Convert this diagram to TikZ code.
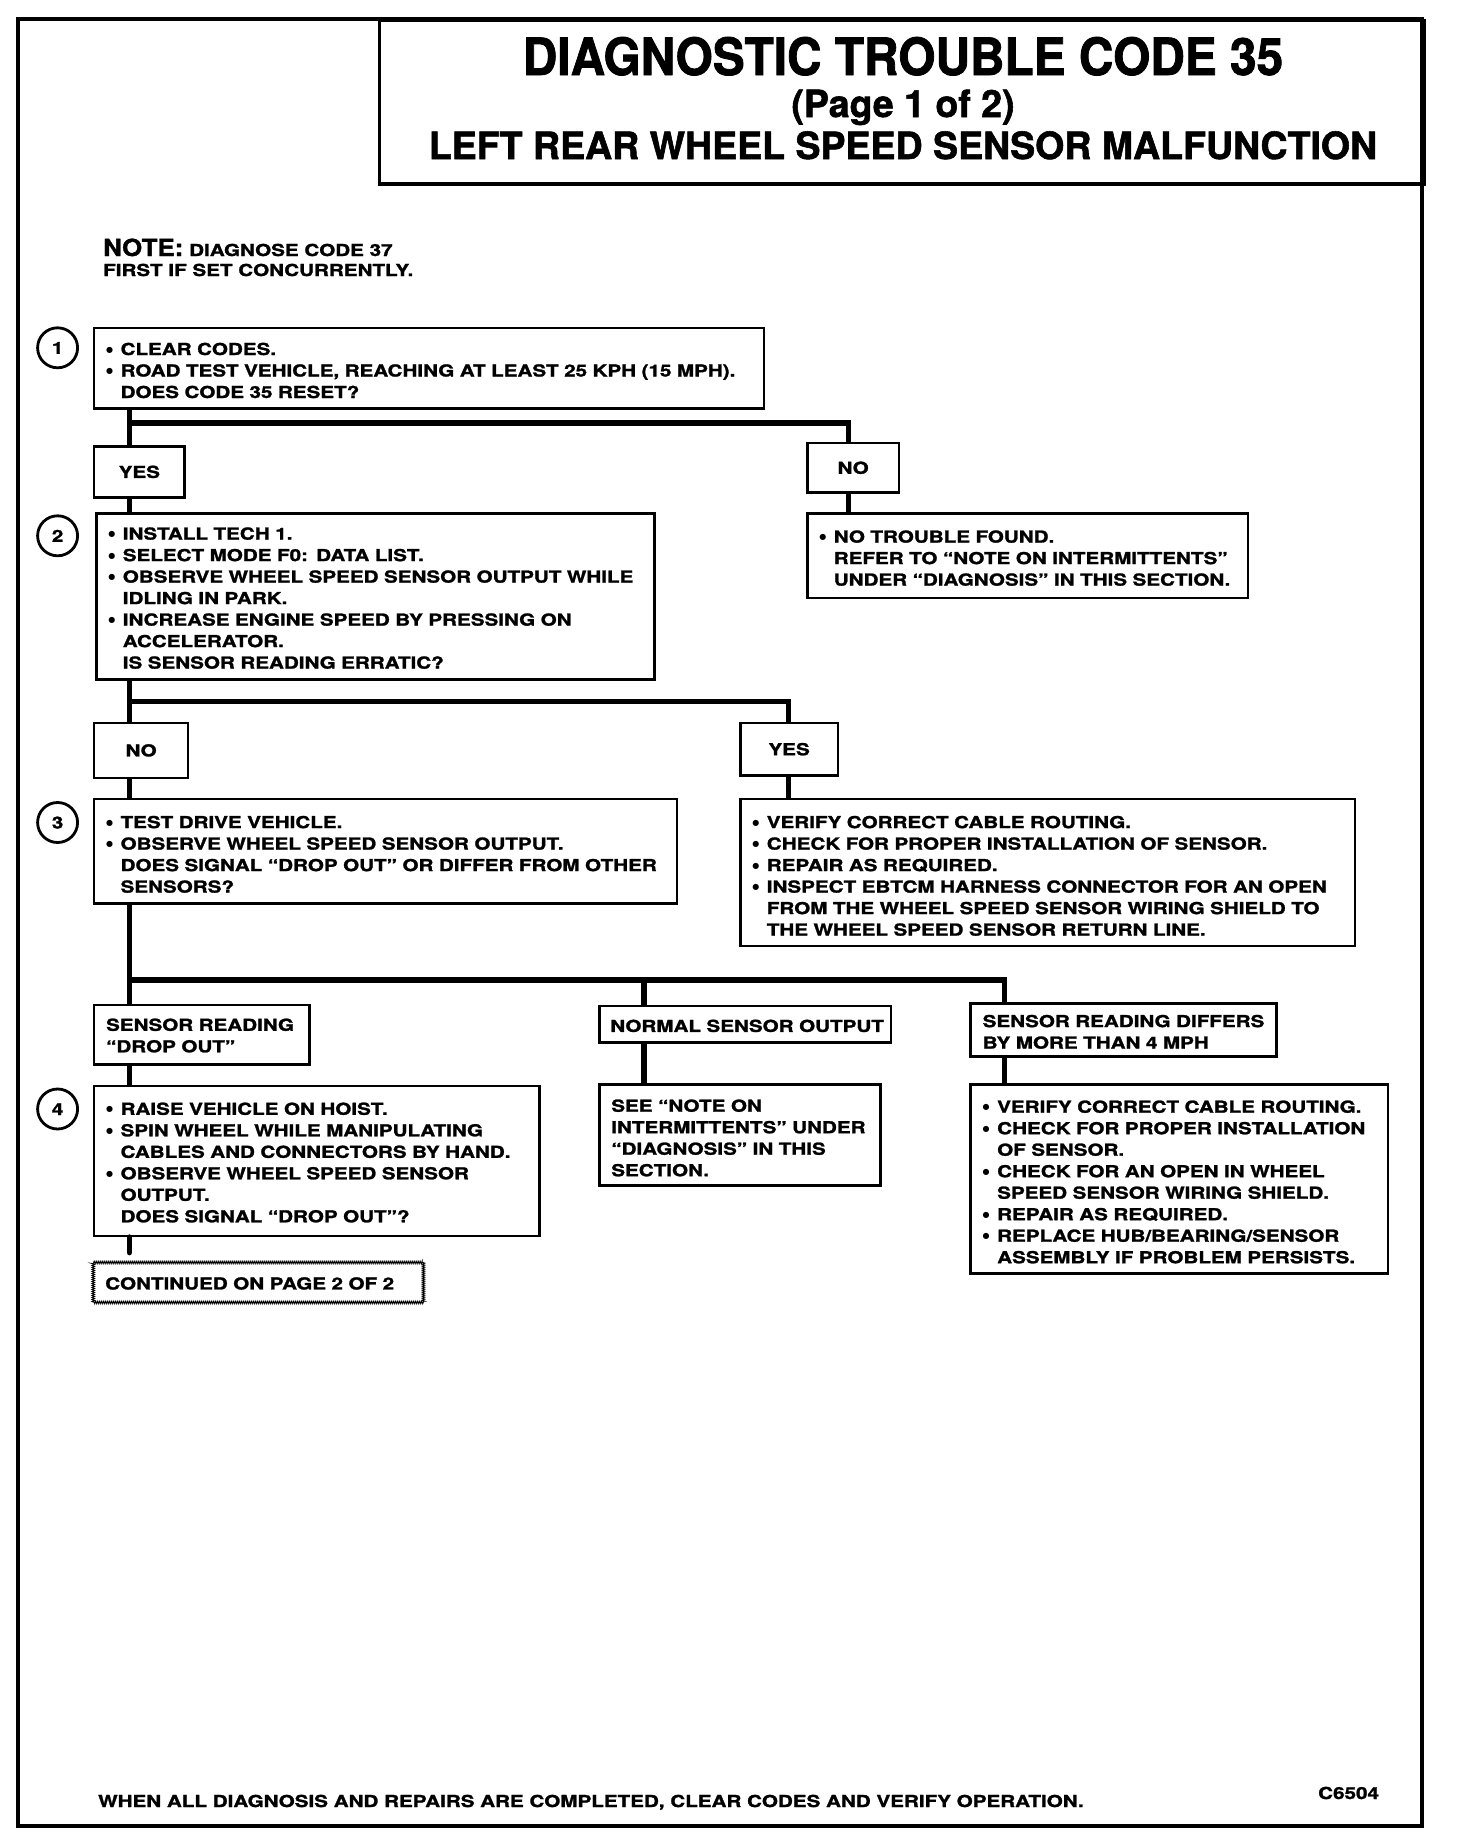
\documentclass[tikz,border=0pt]{standalone}
\usepackage{fontspec}
\usetikzlibrary{decorations.pathmorphing}
\newfontfamily\boxfont{TeX Gyre Heros}[FakeStretch=1.25, FakeBold=1.5]
\newfontfamily\notefont{TeX Gyre Heros}[FakeStretch=1.1, FakeBold=1.5]
\newfontfamily\titlefontA{TeX Gyre Heros}[FakeStretch=0.93, FakeBold=1.5]
\newfontfamily\titlefontB{TeX Gyre Heros}[FakeBold=1.5]
\newfontfamily\dotfont{DejaVu Sans}
\newcommand\TS[1][27]{\rule{0pt}{#1pt}}
\newcommand\BS[1][10.5]{\rule[-#1pt]{0pt}{#1pt}}
\newcommand\bu{\makebox[14.5pt][l]{\dotfont\fontsize{8}{8}\selectfont\raisebox{3pt}{●}}}
\newcommand\bl[1]{\mbox{\bu #1}}
\newcommand\cl[1]{\mbox{\hspace*{14.5pt}#1}}
\newcommand\pl[1]{\mbox{#1}}
\tikzset{
  bfont/.style={font=\boxfont\bfseries\fontsize{16.5}{21.5}\selectfont},
  box/.style={draw, line width=2.6pt, anchor=north west, inner xsep=12pt, inner ysep=0pt, align=left, bfont},
  yn/.style={draw, line width=2.6pt, anchor=north west, inner sep=0pt, text height=12pt, text depth=0pt, bfont},
  num/.style={circle, draw, line width=2.8pt, minimum size=40pt, inner sep=0pt, text height=12pt, text depth=0pt, bfont},
  conn/.style={line width=5.5pt, line join=miter},
  plain/.style={inner sep=0pt, anchor=base west, bfont},
  contbox/.style={draw, line width=0.9pt, decorate, decoration={zigzag, segment length=2pt, amplitude=1.3pt}, anchor=north west, inner xsep=12pt, inner ysep=0pt, align=left, bfont}
}
\begin{document}
\begin{tikzpicture}[x=1pt,y=-1pt]
\useasboundingbox (0,0) rectangle (1456,1844);
% frame
\draw[line width=4pt] (18,19) rectangle (1422,1826);
% title
\node[draw, line width=3.5pt, anchor=north west, minimum width=1044.5pt, minimum height=163pt, inner sep=0pt] (title) at (377.5,19) {};
\node[inner sep=0pt, anchor=base, font=\titlefontA\bfseries\fontsize{51.4}{56}\selectfont] (t1) at (903,75) {DIAGNOSTIC TROUBLE CODE 35};
\node[inner sep=0pt, anchor=base, font=\titlefontB\bfseries\fontsize{37.5}{42}\selectfont] (t2) at (903,117) {(Page 1 of 2)};
\node[inner sep=0pt, anchor=base, font=\titlefontB\bfseries\fontsize{37.5}{42}\selectfont] (t3) at (903,159) {LEFT REAR WHEEL SPEED SENSOR MALFUNCTION};
% note
\node[plain, font=\notefont\bfseries\fontsize{23.5}{26}\selectfont] (note) at (103,256) {NOTE:};
\node[plain] (note2) at (189,256) {DIAGNOSE CODE 37};
\node[plain] (note3) at (103,276) {FIRST IF SET CONCURRENTLY.};
% step numbers
\node[num] (n1) at (57.6,347.8) {1};
\node[num] (n2) at (57.6,535.8) {2};
\node[num] (n3) at (57.6,822.5) {3};
\node[num] (n4) at (57.6,1109) {4};
% boxes
\node[box, text width=645.8pt] (b1) at (92.8,326.7) {\TS\bl{CLEAR CODES.}\\
\bl{ROAD TEST VEHICLE, REACHING AT LEAST 25 KPH (15 MPH).}\\
\cl{DOES CODE 35 RESET?}\BS};
\node[yn, minimum width=90.5pt, minimum height=50.6pt] (yes1) at (92.8,445.3) {YES};
\node[yn, minimum width=91.7pt, minimum height=49.4pt] (no1) at (806,441.8) {NO};
\node[box, text width=416.7pt] (nores) at (806,512.3) {\TS[29]\bl{NO TROUBLE FOUND.}\\
\cl{REFER TO “NOTE ON INTERMITTENTS”}\\
\cl{UNDER “DIAGNOSIS” IN THIS SECTION.}\BS[12.5]};
\node[box, text width=534pt] (b2) at (95,512.3) {\TS[26]\bl{INSTALL TECH 1.}\\
\bl{SELECT MODE F0: DATA LIST.}\\
\bl{OBSERVE WHEEL SPEED SENSOR OUTPUT WHILE}\\
\cl{IDLING IN PARK.}\\
\bl{INCREASE ENGINE SPEED BY PRESSING ON}\\
\cl{ACCELERATOR.}\\
\cl{IS SENSOR READING ERRATIC?}\BS[11]};
\node[yn, minimum width=94pt, minimum height=55.2pt] (no2) at (92.8,721.5) {NO};
\node[yn, minimum width=97.6pt, minimum height=52.8pt] (yes2) at (739,721.5) {YES};
\node[box, text width=558.8pt] (b3) at (92.8,797.8) {\TS[29]\bl{TEST DRIVE VEHICLE.}\\
\bl{OBSERVE WHEEL SPEED SENSOR OUTPUT.}\\
\cl{DOES SIGNAL “DROP OUT” OR DIFFER FROM OTHER}\\
\cl{SENSORS?}\BS[11]};
\node[box, text width=590.6pt] (res2) at (739,797.8) {\TS[29]\bl{VERIFY CORRECT CABLE ROUTING.}\\
\bl{CHECK FOR PROPER INSTALLATION OF SENSOR.}\\
\bl{REPAIR AS REQUIRED.}\\
\bl{INSPECT EBTCM HARNESS CONNECTOR FOR AN OPEN}\\
\cl{FROM THE WHEEL SPEED SENSOR WIRING SHIELD TO}\\
\cl{THE WHEEL SPEED SENSOR RETURN LINE.}\BS[10.5]};
\node[box, text width=191.1pt] (sr) at (92.8,1003.5) {\TS[26]\pl{SENSOR READING}\\
\pl{“DROP OUT”}\BS[12]};
\node[box, inner xsep=11pt, text width=269.5pt] (nso) at (598,1004.6) {\TS[26]\pl{NORMAL SENSOR OUTPUT}\BS[10.5]};
\node[box, text width=281.5pt] (diff) at (969.4,1002.3) {\TS[23.5]\pl{SENSOR READING DIFFERS}\\
\pl{BY MORE THAN 4 MPH}\BS[8]};
\node[box, text width=421.4pt] (b4) at (92.8,1084.5) {\TS[29]\bl{RAISE VEHICLE ON HOIST.}\\
\bl{SPIN WHEEL WHILE MANIPULATING}\\
\cl{CABLES AND CONNECTORS BY HAND.}\\
\bl{OBSERVE WHEEL SPEED SENSOR}\\
\cl{OUTPUT.}\\
\cl{DOES SIGNAL “DROP OUT”?}\BS[13.5]};
\node[box, text width=257pt] (nsores) at (598,1083.4) {\TS[27]\pl{SEE “NOTE ON}\\
\pl{INTERMITTENTS” UNDER}\\
\pl{“DIAGNOSIS” IN THIS}\\
\pl{SECTION.}\BS[9.5]};
\node[box, text width=393.1pt] (diffres) at (969.4,1083.4) {\TS[28]\bl{VERIFY CORRECT CABLE ROUTING.}\\
\bl{CHECK FOR PROPER INSTALLATION}\\
\cl{OF SENSOR.}\\
\bl{CHECK FOR AN OPEN IN WHEEL}\\
\cl{SPEED SENSOR WIRING SHIELD.}\\
\bl{REPAIR AS REQUIRED.}\\
\bl{REPLACE HUB/BEARING/SENSOR}\\
\cl{ASSEMBLY IF PROBLEM PERSISTS.}\BS[10.5]};
\node[contbox, text width=306.2pt] (cont) at (92.8,1262) {\TS[27]\pl{CONTINUED ON PAGE 2 OF 2}\BS[13]};
% connector coordinates
\coordinate (sp) at (129.3,0);
\coordinate (xno1) at (848.4,0);
\coordinate (xyes2) at (788.4,0);
\coordinate (xnso) at (644,0);
\coordinate (xdiff) at (1004.6,0);
\coordinate (br1) at (129.3,423);
\coordinate (br2) at (129.3,701.5);
\coordinate (br3) at (129.3,980);
\coordinate (endc) at (129.3,1252.6);
% connectors
\draw[conn] (b1.south -| sp) -- (yes1.north -| sp);
\draw[conn] (br1) -| (no1.north -| xno1);
\draw[conn] (yes1.south -| sp) -- (b2.north -| sp);
\draw[conn] (no1.south -| xno1) -- (nores.north -| xno1);
\draw[conn] (b2.south -| sp) -- (no2.north -| sp);
\draw[conn] (br2) -| (yes2.north -| xyes2);
\draw[conn] (yes2.south -| xyes2) -- (res2.north -| xyes2);
\draw[conn] (no2.south -| sp) -- (b3.north -| sp);
\draw[conn] (b3.south -| sp) -- (sr.north -| sp);
\draw[conn] (br3) -| (diff.north -| xdiff);
\draw[conn] (br3 -| xnso) -- (nso.north -| xnso);
\draw[conn] (sr.south -| sp) -- (b4.north -| sp);
\draw[conn] (nso.south -| xnso) -- (nsores.north -| xnso);
\draw[conn] (diff.south -| xdiff) -- (diffres.north -| xdiff);
\draw[conn, line cap=round] (b4.south -| sp) -- (endc);
% footer
\node[plain] (foot) at (98,1807) {WHEN ALL DIAGNOSIS AND REPAIRS ARE COMPLETED, CLEAR CODES AND VERIFY OPERATION.};
\node[plain] (code) at (1318,1799) {C6504};
\end{tikzpicture}
\end{document}
